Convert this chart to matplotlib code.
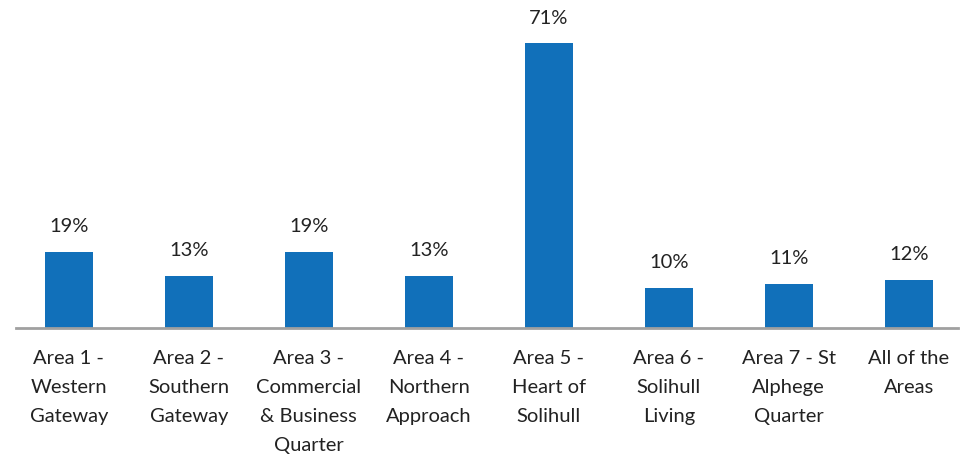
import matplotlib
matplotlib.use("Agg")
import matplotlib.pyplot as plt

categories = ["Area 1 -\nWestern\nGateway", "Area 2 -\nSouthern\nGateway",
              "Area 3 -\nCommercial\n& Business\nQuarter", "Area 4 -\nNorthern\nApproach",
              "Area 5 -\nHeart of\nSolihull", "Area 6 -\nSolihull\nLiving",
              "Area 7 - St\nAlphege\nQuarter", "All of the\nAreas"]
values = [19, 13, 19, 13, 71, 10, 11, 12]
value_labels = ["19%", "13%", "19%", "13%", "71%", "10%", "11%", "12%"]

plt.rcParams['font.family'] = ['Lato', 'DejaVu Sans']
fig = plt.figure(figsize=(9.75, 4.57), dpi=100)
ax = fig.add_axes([16/975, 1-328/457, 942/975, (328-43)/457])
x = list(range(len(values)))
bars = ax.bar(x, values, width=0.4, color="#1170BA")
ax.set_xlim(-0.44, 7.41)
ax.set_ylim(0, 71)
for xi, v, lab in zip(x, values, value_labels):
    ax.annotate(lab, (xi, v), xytext=(0, 18), textcoords="offset points",
                ha="center", va="center", fontsize=14.5, color="#222222")
for s in ["top", "right", "left"]:
    ax.spines[s].set_visible(False)
ax.spines["bottom"].set_color("#A0A0A0")
ax.spines["bottom"].set_linewidth(2)
ax.set_yticks([])
ax.set_xticks(x)
ax.set_xticklabels(categories, fontsize=14.5, color="#222222", linespacing=1.86, va="top")
ax.tick_params(axis="x", length=0, pad=16)
fig.savefig("out.png", dpi=100)
